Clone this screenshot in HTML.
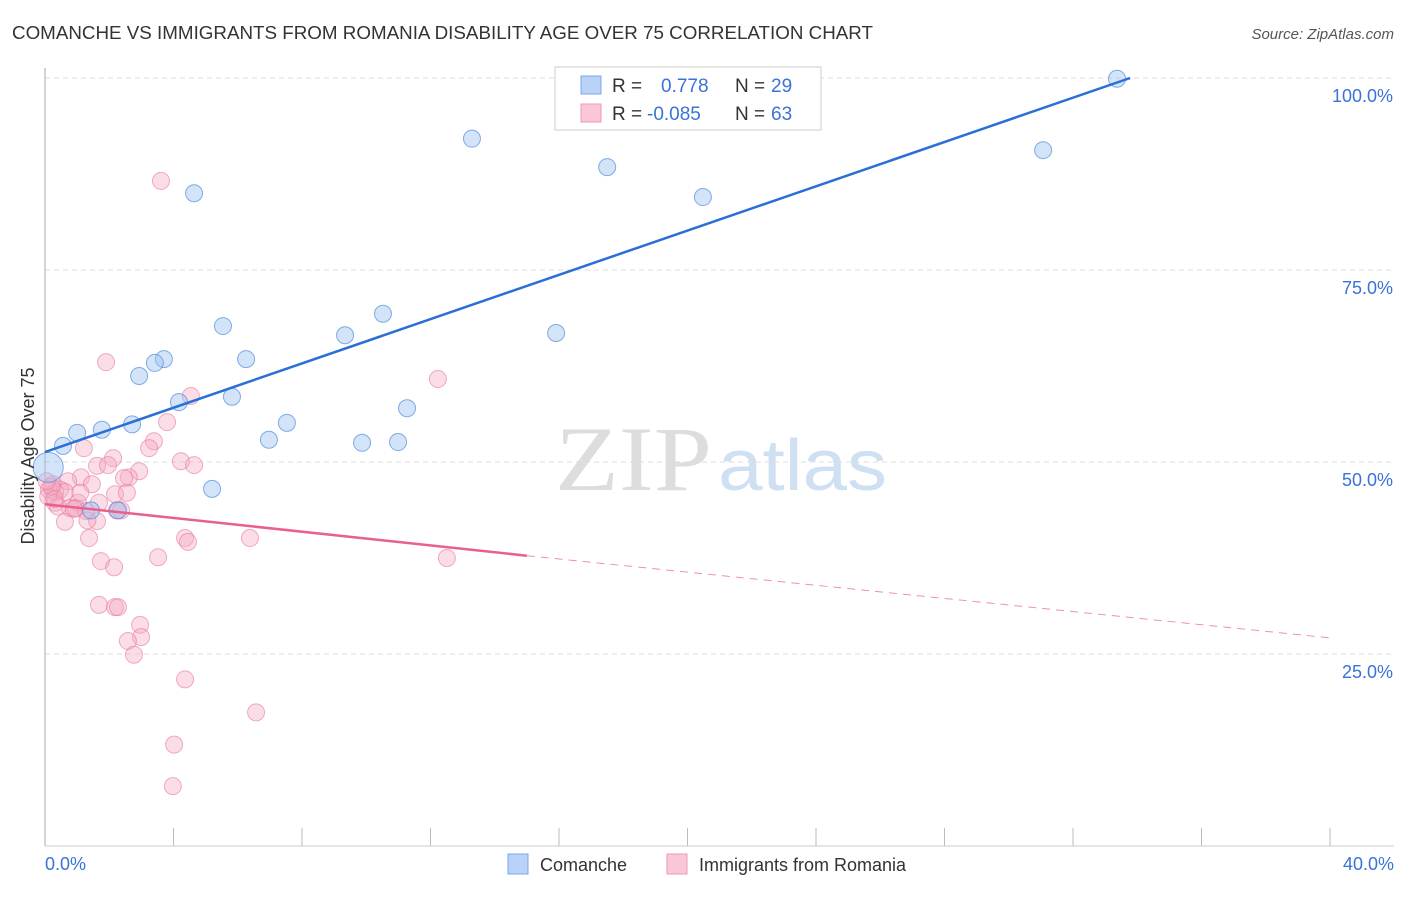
<!DOCTYPE html>
<html><head><meta charset="utf-8"><style>
body{margin:0;background:#fff;font-family:"Liberation Sans",sans-serif;}
svg text{font-family:"Liberation Sans",sans-serif;}
</style></head><body>
<svg width="1406" height="892">
<text x="12" y="39" font-size="18.5" fill="#333" textLength="861" lengthAdjust="spacingAndGlyphs">COMANCHE VS IMMIGRANTS FROM ROMANIA DISABILITY AGE OVER 75 CORRELATION CHART</text>
<text x="1394" y="39" font-size="15" fill="#555" font-style="italic" text-anchor="end">Source: ZipAtlas.com</text>
<g id="grid"></g>
<line x1="45" y1="68" x2="45" y2="846" stroke="#aaa"/>
<line x1="45" y1="846" x2="1394" y2="846" stroke="#ccc"/>
<text x="555" y="490" font-size="92" fill="#ddd" textLength="157" lengthAdjust="spacingAndGlyphs" style="font-family:'Liberation Serif',serif">ZIP</text>
<text x="718" y="490" font-size="72" fill="#cfe0f3" textLength="169" lengthAdjust="spacingAndGlyphs">atlas</text>
<g id="pts"></g>
<g id="lines"></g>
<text x="28" y="456" font-size="18" fill="#333" transform="rotate(-90 28 456)" text-anchor="middle" dy="6">Disability Age Over 75</text>
<text x="45" y="870" font-size="18" fill="#3a72d8">0.0%</text>
<text x="1394" y="870" font-size="18" fill="#3a72d8" text-anchor="end">40.0%</text>
<g>
<rect x="555" y="67" width="266" height="63" fill="#fff" stroke="#ccc"/>
<rect x="581" y="76" width="20" height="18" fill="#b8d3f5" stroke="#7aa7e6"/>
<rect x="581" y="104" width="20" height="18" fill="#f9c7d6" stroke="#ee9ab4"/>
<text x="612" y="92" font-size="19" fill="#333">R = <tspan fill="#3a72d8" x="661">0.778</tspan><tspan fill="#333" x="735">N =</tspan><tspan fill="#3a72d8" x="771">29</tspan></text>
<text x="612" y="120" font-size="19" fill="#333">R = <tspan fill="#3a72d8" x="647">-0.085</tspan><tspan fill="#333" x="735">N =</tspan><tspan fill="#3a72d8" x="771">63</tspan></text>
</g>
<g>
<rect x="508" y="854" width="20" height="20" fill="#b8d3f5" stroke="#7aa7e6"/>
<text x="540" y="871" font-size="18" fill="#333">Comanche</text>
<rect x="667" y="854" width="20" height="20" fill="#f9c7d6" stroke="#ee9ab4"/>
<text x="699" y="871" font-size="18" fill="#333">Immigrants from Romania</text>
</g>
</svg>
<script>
const yTicks=[25,50,75,100];
const yTickLabels=["25.0%","50.0%","75.0%","100.0%"];
const xTicks=[0,4,8,12,16,20,24,28,32,36,40];
const blueX=[33.37,13.29,17.5,31.07,20.48,4.64,5.54,10.52,9.34,15.91,6.26,3.70,3.42,2.93,5.82,4.17,11.27,7.53,2.71,1.77,1.0,0.56,6.97,9.87,10.99,5.2,2.27,1.43,0.1];
const blueY=[99.9,92.1,88.4,90.6,84.5,85.0,67.7,69.3,66.5,66.8,63.4,63.4,62.9,61.2,58.5,57.8,57.0,55.1,54.9,54.2,53.8,52.1,52.9,52.5,52.6,46.5,43.7,43.7,49.3];
const pinkX=[3.61,1.9,12.23,4.54,3.8,3.39,3.24,1.21,2.12,4.23,4.64,1.62,1.96,2.93,1.12,2.61,2.46,0.72,1.46,0.25,0.47,0.12,0.31,0.62,2.18,2.55,1.03,1.68,0.31,0.78,0.96,1.28,2.24,2.37,1.62,0.62,1.32,4.36,4.45,6.38,1.37,3.52,12.51,1.74,2.15,1.68,2.18,2.27,2.96,2.99,2.58,2.77,4.36,6.57,4.02,3.98,0.1,0.2,0.4,0.9,1.1,0.05,0.3];
const pinkY=[86.6,63.0,60.8,58.6,55.2,52.7,51.8,51.8,50.5,50.1,49.6,49.5,49.6,48.8,48.0,48.0,47.9,47.5,47.1,47.1,46.4,46.4,46.1,46.1,45.8,46.0,44.7,44.7,44.7,44.0,44.0,43.6,43.7,43.7,42.3,42.2,42.4,40.1,39.6,40.1,40.1,37.6,37.5,37.1,36.3,31.4,31.1,31.1,28.8,27.2,26.7,24.9,21.7,17.4,13.2,7.8,45.5,46.8,44.2,43.9,46.0,47.5,45.2];
const blueTrend=[51.3,100,33.78];
const pinkTrend=[44.5,37.8,15.0,27.1,40];
const X=v=>45+v/40*1285, Y=v=>846-v/100*768;
const NS="http://www.w3.org/2000/svg";
function mk(tag,attrs,parent){const e=document.createElementNS(NS,tag);for(const k in attrs)e.setAttribute(k,attrs[k]);document.getElementById(parent).appendChild(e);return e;}
mk('line',{x1:45,x2:1394,y1:Y(100),y2:Y(100),stroke:'#ddd','stroke-dasharray':'5,4'},'grid');
yTicks.forEach((t,i)=>{
 const l=mk('line',{x1:45,x2:1394,y1:Y(t),y2:Y(t),stroke:'#ddd','stroke-dasharray':'5,4'},'grid');
 
 
 const tx=mk('text',{x:1393,y:Y(t)+24,'font-size':18,fill:'#3a72d8','text-anchor':'end'},'grid');
 tx.textContent=yTickLabels[i];
 
 
});
xTicks.forEach(t=>{
 const l=mk('line',{x1:X(t),x2:X(t),y1:828,y2:846,stroke:'#bbb'},'grid');
 
 
});
pinkX.forEach((x,i)=>{
 const c=mk('circle',{cx:X(x),cy:Y(pinkY[i]),r:8.5,fill:'rgba(246,170,195,0.4)',stroke:'rgba(232,120,160,0.6)','stroke-width':1},'pts');
 
 
});
blueX.forEach((x,i)=>{
 const c=mk('circle',{cx:X(x),cy:Y(blueY[i]),r:i==blueX.length-1?15:8.5,fill:'rgba(160,195,240,0.45)',stroke:'rgba(80,140,220,0.7)','stroke-width':1},'pts');
 
 
});
const b=mk('line',{x1:X(0),y1:Y(blueTrend[0]),x2:X(blueTrend[2]),y2:Y(blueTrend[1]),stroke:'#2a6fd6','stroke-width':2.5},'lines');


const p=mk('line',{x1:X(0),y1:Y(pinkTrend[0]),x2:X(pinkTrend[2]),y2:Y(pinkTrend[1]),stroke:'#e8608e','stroke-width':2.5},'lines');


const pd=mk('line',{x1:X(pinkTrend[2]),y1:Y(pinkTrend[1]),x2:X(pinkTrend[4]),y2:Y(pinkTrend[3]),stroke:'#e8608e','stroke-width':1,'stroke-dasharray':'8,6','opacity':0.7},'lines');


</script>
</body></html>
